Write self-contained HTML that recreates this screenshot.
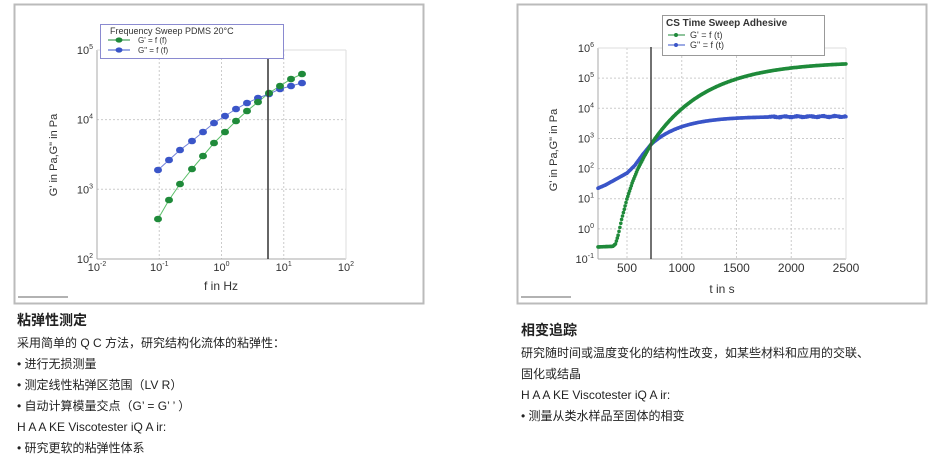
<!DOCTYPE html>
<html><head><meta charset="utf-8"><style>
body{margin:0;width:940px;height:456px;background:#fff;position:relative;overflow:hidden;font-family:"Liberation Sans","Noto Sans CJK SC",sans-serif;color:#222}
.t{position:absolute;font-size:12px;white-space:nowrap;line-height:14px}
.h{font-size:14px;font-weight:bold;line-height:16px}
svg text{font-family:"Liberation Sans",sans-serif;fill:#333}
</style></head><body>
<svg id="s" width="940" height="310" style="position:absolute;left:0;top:0">
<rect x="14.5" y="4.5" width="409" height="299" fill="#fff" stroke="#bbb" stroke-width="2"/>
<rect x="517.5" y="4.5" width="409" height="299" fill="#fff" stroke="#bbb" stroke-width="2"/>
<g id="g"></g>
</svg>
<div class="t h" style="left:17px;top:312px">粘弹性测定</div>
<div class="t" style="left:17px;top:336px">采用简单的 Q C 方法，研究结构化流体的粘弹性：</div>
<div class="t" style="left:17px;top:357px">• 进行无损测量</div>
<div class="t" style="left:17px;top:378px">• 测定线性粘弹区范围（LV R）</div>
<div class="t" style="left:17px;top:399px">• 自动计算模量交点（G’ = G’ ’ ）</div>
<div class="t" style="left:17px;top:420px">H A A KE Viscotester iQ A ir:</div>
<div class="t" style="left:17px;top:441px">• 研究更软的粘弹性体系</div>
<div class="t h" style="left:521px;top:322px">相变追踪</div>
<div class="t" style="left:521px;top:346px">研究随时间或温度变化的结构性改变，如某些材料和应用的交联、</div>
<div class="t" style="left:521px;top:367px">固化或结晶</div>
<div class="t" style="left:521px;top:388px">H A A KE Viscotester iQ A ir:</div>
<div class="t" style="left:521px;top:409px">• 测量从类水样品至固体的相变</div>
<script>
var g=document.getElementById('g'),h='';
function L(x1,y1,x2,y2,c,w,d){h+='<line x1="'+x1+'" y1="'+y1+'" x2="'+x2+'" y2="'+y2+'" stroke="'+c+'" stroke-width="'+(w||1)+'"'+(d?' stroke-dasharray="2,2"':'')+'/>';}
function T(x,y,s,a,sz,b){h+='<text x="'+x+'" y="'+y+'" font-size="'+(sz||11)+'" text-anchor="'+(a||'middle')+'"'+(b?' font-weight="bold"':'')+'>'+s+'</text>';}
function P(x,y,e){return '10<tspan dy="-5" font-size="7">'+e+'</tspan>';}
var x0=97,x1=346,yt=50,yb=259;
for(var i=0;i<=4;i++){var x=x0+i*62.25;if(i>0&&i<4)L(x,yt,x,yb,'#ccc',1,1);T(x,yb+12,P(0,0,i-2));}
for(var i=0;i<=3;i++){var y=yb-i*69.7;if(i>0&&i<3)L(x0,y,x1,y,'#ccc',1,1);T(x0-4,y+4,P(0,0,i+2),'end');}
L(x0,yt,x0,yb,'#aaa');L(x0,yb,x1,yb,'#aaa');L(x1,yt,x1,yb,'#ddd');L(x0,yt,x1,yt,'#ddd');
T(221,290,'f in Hz','middle',12);
h+='<text x="57" y="155" font-size="11" text-anchor="middle" transform="rotate(-90 57 155)">G\' in Pa,G" in Pa</text>';
var gx=[158,169,180,192,203,214,225,236,247,258,269,280,291,302];
var gy=[219,200,184,169,156,143,132,121,111,102,93,86,79,74];
var by=[170,160,150,141,132,123,116,109,103,98,94,89,86,83];
function poly(xs,ys,c){var p=xs.map(function(x,i){return x+','+ys[i]}).join(' ');h+='<polyline points="'+p+'" fill="none" stroke="'+c+'" stroke-width="1"/>';}
poly(gx,by,'#6f7fd8');poly(gx,gy,'#5cbf6a');
gx.forEach(function(x,i){h+='<ellipse cx="'+x+'" cy="'+by[i]+'" rx="4" ry="3.3" fill="#3a55c8"/>';});
gx.forEach(function(x,i){h+='<ellipse cx="'+x+'" cy="'+gy[i]+'" rx="4" ry="3.3" fill="#1f8a3a"/>';});
L(268,58,268,259,'#333',1.5);
h+='<rect x="100.5" y="24.5" width="183" height="34" fill="#fff" stroke="#8a8ad0"/>';
T(110,34,'Frequency Sweep PDMS 20°C','start',9);
L(108,40,130,40,'#1f8a3a');h+='<ellipse cx="119" cy="40" rx="3.5" ry="2.6" fill="#1f8a3a"/>';T(138,43,'G\' = f (f)','start',8);
L(108,50,130,50,'#3a55c8');h+='<ellipse cx="119" cy="50" rx="3.5" ry="2.6" fill="#3a55c8"/>';T(138,53,'G" = f (f)','start',8);
L(18,297,68,297,'#999',1.5);
var X0=598,X1=846,Yt=48,Yb=259,dec=30.14;
function tx(t){return 627+(t-500)*0.1095;}
function ty(l){return Yb-(l+1)*dec;}
[500,1000,1500,2000,2500].forEach(function(t){var x=tx(t);if(t<2500)L(x,Yt,x,Yb,'#ccc',1,1);T(x,Yb+13,t,'middle',12);});
for(var e=-1;e<=6;e++){var y=ty(e);if(e>-1&&e<6)L(X0,y,X1,y,'#ccc',1,1);T(X0-4,y+4,P(0,0,e),'end');}
L(X0,Yt,X0,Yb,'#aaa');L(X0,Yb,X1,Yb,'#aaa');L(X1,Yt,X1,Yb,'#ddd');L(X0,Yt,X1,Yt,'#ddd');
T(722,293,'t in s','middle',12);
h+='<text x="557" y="150" font-size="11" text-anchor="middle" transform="rotate(-90 557 150)">G\' in Pa,G" in Pa</text>';
function interp(k,t){for(var i=0;i<k.length-1;i++){if(t<=k[i+1][0]){var a=k[i],b=k[i+1];return a[1]+(b[1]-a[1])*(t-a[0])/(b[0]-a[0]);}}return k[k.length-1][1];}
var G=[[235,-0.6],[370,-0.58],[395,-0.5],[420,-0.2],[450,0.3],[500,1.0],[550,1.55],[600,2.0],[660,2.42],[719,2.8]];
var B=[[235,1.35],[300,1.45],[400,1.65],[500,1.85],[570,2.1],[640,2.45],[719,2.8]];
function gv(t){return t<=719?interp(G,t):5.55-2.75*Math.exp(-(t-719)/500);}
function bv(t){return t<=719?interp(B,t):3.73-0.93*Math.exp(-(t-719)/280)+(t>1800?0.03*Math.sin(t*1.37)*Math.cos(t*0.53):0);}
for(var t=235;t<=2500;t+=8){h+='<circle cx="'+tx(t).toFixed(1)+'" cy="'+ty(bv(t)).toFixed(1)+'" r="1.8" fill="#3a55c8"/>';}
for(var t=235;t<=2500;t+=8){h+='<circle cx="'+tx(t).toFixed(1)+'" cy="'+ty(gv(t)).toFixed(1)+'" r="1.8" fill="#1f8a3a"/>';}
L(651,47,651,259,'#444',1.5);
h+='<rect x="662.5" y="15.5" width="162" height="40" fill="#fff" stroke="#999"/>';
T(666,26,'CS Time Sweep Adhesive','start',10,1);
L(668,35,685,35,'#1f8a3a');h+='<circle cx="676" cy="35" r="2" fill="#1f8a3a"/>';T(690,38,'G\' = f (t)','start',9);
L(668,45,685,45,'#3a55c8');h+='<circle cx="676" cy="45" r="2" fill="#3a55c8"/>';T(690,48,'G" = f (t)','start',9);
L(521,297,571,297,'#999',1.5);
g.innerHTML=h;
</script>
</body></html>
